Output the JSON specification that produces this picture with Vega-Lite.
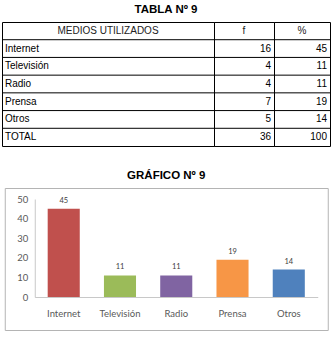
{
  "$schema": "https://vega.github.io/schema/vega-lite/v6.json",
  "padding": {"top": 4, "left": 1, "right": 0, "bottom": 0},
  "background": "white",
  "datasets": {
    "tabla": [
      {"medio": "Internet", "f": 16, "pct": 45},
      {"medio": "Televisión", "f": 4, "pct": 11},
      {"medio": "Radio", "f": 4, "pct": 11},
      {"medio": "Prensa", "f": 7, "pct": 19},
      {"medio": "Otros", "f": 5, "pct": 14},
      {"medio": "TOTAL", "f": 36, "pct": 100}
    ]
  },
  "config": {
    "font": "Liberation Sans",
    "view": {"stroke": "#000000"},
    "axis": {"grid": false}
  },
  "spacing": 22,
  "center": true,
  "vconcat": [
    {
      "title": {"text": "TABLA Nº 9", "fontSize": 11.5, "fontWeight": "bold", "anchor": "middle", "offset": 6, "color": "#000000", "font": "Liberation Sans"},
      "spacing": 0,
      "bounds": "flush",
      "hconcat": [
        {
          "width": 212,
          "height": 124,
          "data": {"name": "tabla"},
          "encoding": {
            "y": {"field": "medio", "type": "nominal", "axis": null,
              "scale": {"domain": ["MEDIOS UTILIZADOS", "Internet", "Televisión", "Radio", "Prensa", "Otros", "TOTAL"], "paddingInner": 0, "paddingOuter": 0}}
          },
          "layer": [
            {
              "mark": {"type": "rule", "color": "#000000", "strokeWidth": 1},
              "encoding": {"y": {"field": "medio", "type": "nominal", "bandPosition": 0}}
            },
            {
              "mark": {"type": "text", "align": "left", "baseline": "middle", "x": 0, "dx": 3, "fontSize": 10, "color": "#000000"},
              "encoding": {"text": {"field": "medio", "type": "nominal"}}
            },
            {
              "data": {"values": [{}]},
              "mark": {"type": "text", "align": "center", "baseline": "middle", "fontSize": 10, "color": "#222222"},
              "encoding": {
                "y": {"datum": "MEDIOS UTILIZADOS", "type": "nominal"},
                "text": {"value": "MEDIOS UTILIZADOS"}
              }
            }
          ]
        },
        {
          "width": 60,
          "height": 124,
          "data": {"name": "tabla"},
          "encoding": {
            "y": {"field": "medio", "type": "nominal", "axis": null,
              "scale": {"domain": ["MEDIOS UTILIZADOS", "Internet", "Televisión", "Radio", "Prensa", "Otros", "TOTAL"], "paddingInner": 0, "paddingOuter": 0}}
          },
          "layer": [
            {
              "mark": {"type": "rule", "color": "#000000", "strokeWidth": 1},
              "encoding": {"y": {"field": "medio", "type": "nominal", "bandPosition": 0}}
            },
            {
              "mark": {"type": "text", "align": "right", "baseline": "middle", "x": "width", "dx": -3, "fontSize": 10, "color": "#000000"},
              "encoding": {"text": {"field": "f", "type": "quantitative"}}
            },
            {
              "data": {"values": [{}]},
              "mark": {"type": "text", "align": "center", "baseline": "middle", "fontSize": 10, "color": "#222222"},
              "encoding": {
                "y": {"datum": "MEDIOS UTILIZADOS", "type": "nominal"},
                "text": {"value": "f"}
              }
            }
          ]
        },
        {
          "width": 56,
          "height": 124,
          "data": {"name": "tabla"},
          "encoding": {
            "y": {"field": "medio", "type": "nominal", "axis": null,
              "scale": {"domain": ["MEDIOS UTILIZADOS", "Internet", "Televisión", "Radio", "Prensa", "Otros", "TOTAL"], "paddingInner": 0, "paddingOuter": 0}}
          },
          "layer": [
            {
              "mark": {"type": "rule", "color": "#000000", "strokeWidth": 1},
              "encoding": {"y": {"field": "medio", "type": "nominal", "bandPosition": 0}}
            },
            {
              "mark": {"type": "text", "align": "right", "baseline": "middle", "x": "width", "dx": -3, "fontSize": 10, "color": "#000000"},
              "encoding": {"text": {"field": "pct", "type": "quantitative"}}
            },
            {
              "data": {"values": [{}]},
              "mark": {"type": "text", "align": "center", "baseline": "middle", "fontSize": 10, "color": "#222222"},
              "encoding": {
                "y": {"datum": "MEDIOS UTILIZADOS", "type": "nominal"},
                "text": {"value": "%"}
              }
            }
          ]
        }
      ]
    },
    {
      "title": {"text": "GRÁFICO Nº 9", "fontSize": 11.5, "fontWeight": "bold", "anchor": "middle", "offset": 7, "color": "#000000", "font": "Liberation Sans"},
      "width": 323,
      "height": 142,
      "view": {"stroke": "#B4B4B4"},
      "data": {"name": "tabla"},
      "transform": [{"filter": "datum.medio != 'TOTAL'"}],
      "encoding": {
        "x": {"field": "medio", "type": "nominal", "sort": null,
          "scale": {"range": [30, 313], "paddingInner": 0.43, "paddingOuter": 0.23},
          "axis": {"title": null, "labelAngle": 0, "orient": "bottom", "offset": -33, "ticks": false, "domainColor": "#C8C8C8", "labelFont": "Lato", "labelFontSize": 9.5, "labelColor": "#595959", "labelPadding": 11}},
        "y": {"field": "pct", "type": "quantitative",
          "scale": {"domain": [0, 50], "range": [109, 11]},
          "axis": {"title": null, "values": [0, 10, 20, 30, 40, 50], "offset": -30, "ticks": false, "domainColor": "#C8C8C8", "labelFont": "Lato", "labelFontSize": 9.5, "labelColor": "#595959", "labelPadding": 7}}
      },
      "layer": [
        {
          "mark": {"type": "bar"},
          "encoding": {
            "color": {"field": "medio", "type": "nominal",
              "scale": {"domain": ["Internet", "Televisión", "Radio", "Prensa", "Otros"], "range": ["#C0504D", "#9BBB59", "#8064A2", "#F79646", "#4F81BD"]},
              "legend": null}
          }
        },
        {
          "mark": {"type": "text", "baseline": "alphabetic", "dy": -6, "font": "Lato", "fontSize": 7.5, "color": "#404040"},
          "encoding": {"text": {"field": "pct", "type": "quantitative"}}
        }
      ]
    }
  ]
}
